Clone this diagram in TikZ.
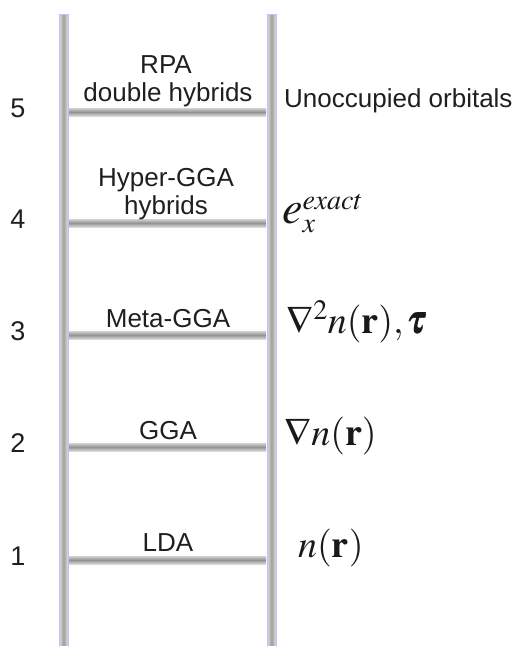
\documentclass[tikz,border=0pt]{standalone}
\usepackage{amsmath}
\usepackage{mathptmx}
\usepackage[no-math]{fontspec}
\newfontfamily\labelfont{Liberation Sans}
\usetikzlibrary{calc}

\tikzset{
  railbar/.style={draw=blue!25, line width=0.6pt,
    left color=gray!25, right color=gray!25, middle color=gray!75},
  rungbar/.style={top color=gray!35, bottom color=gray!30, middle color=gray!85},
  rungtext/.style={anchor=base, inner sep=0pt, text=black!88,
    font=\labelfont\fontsize{26}{30}\selectfont, align=center},
  leveltext/.style={anchor=base, inner sep=0pt, text=black!88,
    font=\labelfont\fontsize{27}{30}\selectfont},
  ingredient/.style={anchor=base west, inner sep=0pt, text=black!90,
    font=\fontsize{38}{44}\selectfont},
  ingredienttext/.style={anchor=base west, inner sep=0pt, text=black!88,
    font=\labelfont\fontsize{26}{30}\selectfont}
}

\newcommand{\bigE}{\mbox{\fontsize{46}{50}\selectfont$e$}}

\begin{document}
\begin{tikzpicture}[x=1pt, y=-1pt]
  \useasboundingbox (0,0) rectangle (514,646);

  % rails
  \shade[railbar] (59,14) rectangle (68,650);
  \shade[railbar] (267,14) rectangle (276,650);

  % rungs
  \foreach \r/\yy in {1/560, 2/447, 3/335, 4/223, 5/112} {
    \shade[rungbar] (69,\yy-4) rectangle (266,\yy+4);
    \coordinate (rung\r) at (166,\yy);
  }

  % level numbers
  \node[leveltext] (n5) at (18,117) {5};
  \node[leveltext] (n4) at (18,228) {4};
  \node[leveltext] (n3) at (18,340) {3};
  \node[leveltext] (n2) at (18,452) {2};
  \node[leveltext] (n1) at (18,565) {1};

  % functional families on the rungs
  \node[rungtext] (rpa) at (166,73) {RPA};
  \node[rungtext] (dh) at (168,101) {double hybrids};
  \node[rungtext] (hgga) at (166,186) {Hyper-GGA};
  \node[rungtext] (hyb) at (166,214) {hybrids};
  \node[rungtext] (mgga) at (168,327) {Meta-GGA};
  \node[rungtext] (gga) at (168,439) {GGA};
  \node[rungtext] (lda) at (168,551) {LDA};

  % ingredients
  \node[ingredienttext] (unocc) at (284,107) {Unoccupied orbitals};
  \node[ingredient] (exx) at (282,223) {$\bigE_x^{exact}$};
  \node[ingredient] (lap) at (286,333) {$\nabla^2 n(\mathbf{r}), \pmb{\tau}$};
  \node[ingredient] (grad) at (284,445) {$\nabla n(\mathbf{r})$};
  \node[ingredient] (dens) at (298,557) {$n(\mathbf{r})$};
\end{tikzpicture}
\end{document}
